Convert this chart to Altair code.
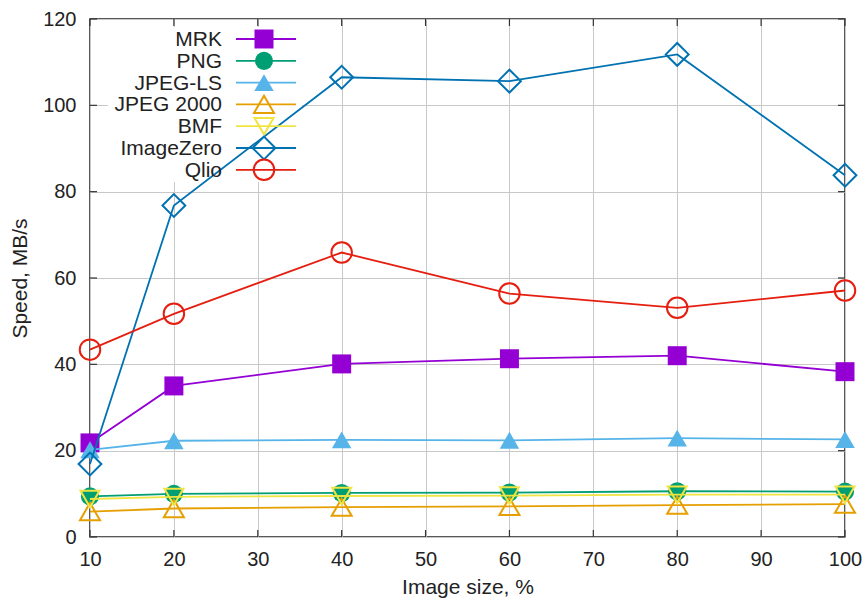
import altair as alt
import pandas as pd

# ---- data ----
image_sizes = [10, 20, 40, 60, 80, 100]
series_names = ["MRK", "PNG", "JPEG-LS", "JPEG 2000", "BMF", "ImageZero", "Qlio"]
mrk = [21.8, 35.0, 40.1, 41.3, 42.0, 38.3]
png = [9.4, 10.0, 10.2, 10.3, 10.6, 10.5]
jpeg_ls = [20.2, 22.3, 22.5, 22.4, 22.9, 22.6]
jpeg_2000 = [5.9, 6.6, 6.9, 7.1, 7.4, 7.6]
bmf = [8.8, 9.3, 9.5, 9.6, 9.8, 9.8]
imagezero = [16.9, 76.8, 106.5, 105.6, 111.8, 83.8]
qlio = [43.4, 51.7, 65.9, 56.4, 53.1, 57.1]
series_values = [mrk, png, jpeg_ls, jpeg_2000, bmf, imagezero, qlio]

x_ticks = [10, 20, 30, 40, 50, 60, 70, 80, 90, 100]
y_ticks = [0, 20, 40, 60, 80, 100, 120]

# ---- styles ----
colors = ["#9400d3", "#009e73", "#56b4e9", "#e69f00", "#f0e442", "#0072b2", "#e51e10"]
shapes = ["square", "circle", "triangle-up", "triangle-up", "triangle-down", "diamond", "circle"]
filled = [True, True, True, False, False, False, False]
msizes = [360, 330, 380, 400, 360, 520, 420]

FONT = "Liberation Sans"
FS_TICK = 20
FS = 21
W, H = 755, 518
TICK = 7

xscale = alt.Scale(domain=[10, 100], nice=False, zero=False)
yscale = alt.Scale(domain=[0, 120], nice=False)
xaxis = alt.Axis(values=x_ticks, title="Image size, %", labelFlush=False)
yaxis = alt.Axis(values=y_ticks, title="Speed, MB/s")

one = pd.DataFrame({"k": [0]})
xt = pd.DataFrame({"size": x_ticks})
yt = pd.DataFrame({"speed": y_ticks})

layers = []

# opaque key box (hides grid behind the key), drawn under the data lines
layers.append(alt.Chart(one).mark_rect(color="white").encode(
    x=alt.value(18), x2=alt.value(212), y=alt.value(8), y2=alt.value(163)
))

# inward tick marks on all four sides (gnuplot style)
tick_color = "#333"
xt_enc = alt.X("size:Q", scale=xscale, axis=xaxis)
yt_enc = alt.Y("speed:Q", scale=yscale, axis=yaxis)
layers.append(alt.Chart(xt).mark_rule(color=tick_color, strokeWidth=1.2).encode(
    x=xt_enc, y=alt.value(H), y2=alt.value(H - TICK)))
layers.append(alt.Chart(xt).mark_rule(color=tick_color, strokeWidth=1.2).encode(
    x=xt_enc, y=alt.value(0), y2=alt.value(TICK)))
layers.append(alt.Chart(yt).mark_rule(color=tick_color, strokeWidth=1.2).encode(
    y=yt_enc, x=alt.value(0), x2=alt.value(TICK)))
layers.append(alt.Chart(yt).mark_rule(color=tick_color, strokeWidth=1.2).encode(
    y=yt_enc, x=alt.value(W), x2=alt.value(W - TICK)))

for i, (name, vals) in enumerate(zip(series_names, series_values)):
    df = pd.DataFrame({"size": image_sizes, "speed": vals, "series": name})
    enc = dict(x=alt.X("size:Q", scale=xscale, axis=xaxis),
               y=alt.Y("speed:Q", scale=yscale, axis=yaxis))
    line = alt.Chart(df).mark_line(color=colors[i], strokeWidth=1.8).encode(**enc)
    pts = alt.Chart(df).mark_point(
        shape=shapes[i], size=msizes[i], color=colors[i],
        filled=filled[i], strokeWidth=2, opacity=1,
        fill=colors[i] if filled[i] else "transparent",
    ).encode(**enc)
    layers += [line, pts]

# ---- key (gnuplot style: label, then line sample with symbol) ----
for i, name in enumerate(series_names):
    ly = 20 + 21.8 * i
    layers.append(
        alt.Chart(one).mark_text(align="right", baseline="middle", font=FONT,
                                 fontSize=FS, color="#222").encode(
            x=alt.value(132), y=alt.value(ly + 1), text=alt.value(name))
    )
    layers.append(
        alt.Chart(one).mark_rule(color=colors[i], strokeWidth=1.8).encode(
            x=alt.value(146), x2=alt.value(206), y=alt.value(ly))
    )
    layers.append(
        alt.Chart(one).mark_point(
            shape=shapes[i], size=msizes[i], color=colors[i], filled=filled[i],
            strokeWidth=2, opacity=1,
            fill=colors[i] if filled[i] else "transparent",
        ).encode(x=alt.value(174), y=alt.value(ly))
    )

chart = alt.layer(*layers).properties(
    width=W, height=H,
    padding={"left": 90, "top": 19, "right": 23, "bottom": 67},
    autosize=alt.AutoSizeParams(type="none"),
).configure_view(
    stroke="#222", strokeWidth=1.5
).configure_axis(
    grid=True, gridColor="#c8c8c8", gridWidth=1,
    domain=False, ticks=False, tickSize=0,
    labelFont=FONT, labelFontSize=FS_TICK, labelColor="#222",
    titleFont=FONT, titleFontSize=FS, titleColor="#222", titleFontWeight="normal",
).configure_axisX(
    labelPadding=12, titlePadding=7
).configure_axisY(
    labelPadding=14, titlePadding=12
)

chart.save("out.html", embed_options={"renderer": "svg", "actions": False})
